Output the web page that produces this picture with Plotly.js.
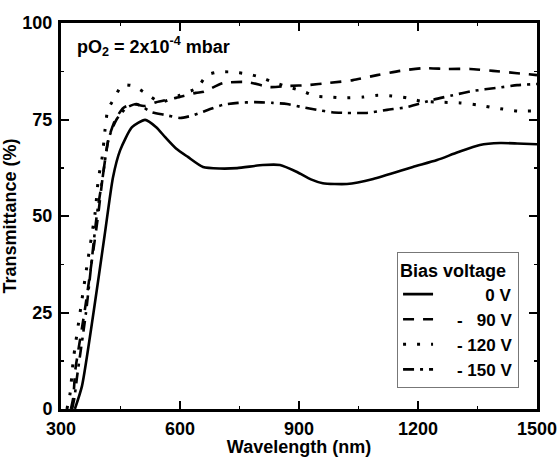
<!DOCTYPE html>
<html><head><meta charset="utf-8">
<script src="https://cdn.plot.ly/plotly-3.0.1.min.js"></script>
<style>body{margin:0;background:#fff}</style>
</head><body><div id="chart" style="width:560px;height:457px"></div>
<script>
// Wavelength (nm) / Transmittance (%)
const wl0V = [335,353,382,410,431,449,479,512,540,562,590,620,658,700,744,809,852,895,930,960,1021,1087,1187,1248,1300,1356,1407,1450,1500];
const tr0V = [0,6,25,45,60,67,73,74.9,73,70.5,67.5,65.3,62.7,62.3,62.4,63.2,63.2,61.4,59.5,58.5,58.3,59.6,62.7,64.5,66.5,68.4,68.9,68.8,68.6];

const wl90V = [325,331,336,360,393,405,420,437,457,480,510,540,590,640,660,708,769,827,877,920,978,1036,1097,1155,1213,1273,1331,1389,1450,1500];
const tr90V = [0,3,10,25.6,49.7,60,70,75,78,79,78.5,79.5,80.6,81.9,82.2,84.4,84.7,83.4,83.7,83.9,84.5,85.2,86.5,87.6,88.3,88.1,88.1,87.6,87,86.5];

const wl120V = [315,323,331,348,365,386,393,398,404,411,418,436,454,482,512,550,600,643,668,696,731,769,802,834,870,908,940,978,1011,1061,1099,1134,1172,1205,1250,1306,1349,1381,1414,1450,1500];
const tr120V = [0,4.1,12.7,24.9,36.8,50.8,58.5,61.9,65.3,72.3,77.5,80.8,83.9,83.7,81.9,79.5,81.3,83.2,86.5,87.3,87.3,86.8,86,84.7,83.5,82.4,81.1,80.8,80.6,80.8,81.3,81.1,80.6,79.8,79.5,79.3,78.8,78.2,77.7,77.2,77.2];

const wl150V = [328,334,340,363,390,405,420,440,465,490,529,562,600,630,655,676,708,746,789,834,870,908,945,983,1021,1054,1071,1122,1172,1238,1288,1339,1399,1450,1500];
const tr150V = [0,3,8,25,50,60,70,75,78,79,76.9,76.2,75.4,76,76.9,77.7,78.8,79.3,79.5,79.3,79,78.2,77.5,76.9,76.7,76.7,76.7,77.5,78.2,80.1,81.3,82.4,83.2,83.9,84.2];

const seriesNames = ['0 V', '- 90 V', '- 120 V', '- 150 V'];
const xTicks = [300, 600, 900, 1200, 1500];
const yTicks = [0, 25, 50, 75, 100];

const NB = '\u00A0';
const legendLabels = [
  NB.repeat(10) + '0' + NB + 'V',
  NB.repeat(4) + '-' + NB.repeat(3) + '90' + NB + 'V',
  NB.repeat(4) + '-' + NB + '120' + NB + 'V',
  NB.repeat(4) + '-' + NB + '150' + NB + 'V'
];

const FONT = 'Arial, "Liberation Sans", Helvetica, sans-serif';
const lw = 2.6;
const traces = [
  {x: wl0V, y: tr0V, name: legendLabels[0], line: {color: '#000', width: lw, dash: 'solid', shape: 'spline', smoothing: 0.6}},
  {x: wl90V, y: tr90V, name: legendLabels[1], line: {color: '#000', width: lw, dash: '11px,9px', shape: 'spline', smoothing: 0.6}},
  {x: wl120V, y: tr120V, name: legendLabels[2], line: {color: '#000', width: lw + 0.4, dash: '3px,11px', shape: 'spline', smoothing: 0.6}},
  {x: wl150V, y: tr150V, name: legendLabels[3], line: {color: '#000', width: lw, dash: '11px,6px,3px,6px', shape: 'spline', smoothing: 0.6}}
].map(t => Object.assign({type: 'scatter', mode: 'lines', hoverinfo: 'skip'}, t));

const titleFont = {family: FONT, size: 18, color: '#000', weight: 'bold'};
const axisCommon = {
  showline: true, linecolor: '#000', linewidth: 3, mirror: 'ticks',
  ticks: 'inside', ticklen: 8, tickwidth: 2, tickcolor: '#000',
  showgrid: false, zeroline: false,
  tickfont: {family: FONT, size: 18, color: '#000', weight: 'bold'}
};

const layout = {
  width: 560, height: 457,
  margin: {l: 61, r: 23, t: 23, b: 48},
  paper_bgcolor: '#fff', plot_bgcolor: '#fff',
  showlegend: true,
  xaxis: Object.assign({}, axisCommon, {
    range: [300, 1500], tickvals: xTicks, ticktext: xTicks.map(String),
    minor: {dtick: 150, tick0: 300, ticks: 'inside', ticklen: 3, tickwidth: 1.5, tickcolor: '#000'},
    title: {text: 'Wavelength (nm)', standoff: 0, font: titleFont},
    ticklabelstandoff: 1
  }),
  yaxis: Object.assign({}, axisCommon, {
    range: [0, 100], tickvals: yTicks, ticktext: yTicks.map(String),
    minor: {dtick: 12.5, tick0: 0, ticks: 'inside', ticklen: 3, tickwidth: 1.5, tickcolor: '#000'},
    title: {text: 'Transmittance (%)', standoff: 2, font: titleFont},
    ticklabelstandoff: 2
  }),
  legend: {
    x: 0.706, y: 0.054, xanchor: 'left', yanchor: 'bottom',
    bgcolor: '#fff', bordercolor: '#777', borderwidth: 1,
    font: {family: FONT, size: 17, color: '#000', weight: 'bold'},
    title: {text: 'Bias voltage', font: {family: FONT, size: 18, color: '#000', weight: 'bold'}},
    tracegroupgap: 0, itemwidth: 30
  },
  annotations: [{
    xref: 'paper', yref: 'paper', x: 0.03, y: 0.94, xanchor: 'left', yanchor: 'middle',
    showarrow: false,
    text: 'pO<sub>2</sub> = 2x10<sup>-4</sup> mbar',
    font: {family: FONT, size: 18, color: '#000', weight: 'bold'}
  }]
};

Plotly.newPlot('chart', traces, layout, {displayModeBar: false, staticPlot: true});
</script>
</body></html>
